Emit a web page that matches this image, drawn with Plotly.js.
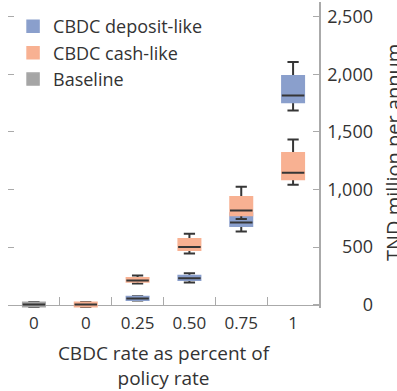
<!DOCTYPE html>
<html>
<head>
<meta charset="utf-8">
<script src="https://cdn.plot.ly/plotly-3.0.1.min.js"></script>
<style>html,body{margin:0;padding:0;background:#fff;}#chart{width:397px;height:391px;}</style>
</head>
<body>
<div id="chart"></div>
<script>
// Categories and tick labels
const categories = ['base 0', 'cash 0', '0.25', '0.50', '0.75', '1'];
const tickLabels = ['0', '0', '0.25', '0.50', '0.75', '1'];
const yTickVals = [0, 500, 1000, 1500, 2000, 2500];
const yTitle = 'TND million per annum';
const xTitle = 'CBDC rate as percent of<br>policy rate';

// Baseline (gray)
const baseCats = ['base 0'];
const baseLower = [-22];
const baseQ1 = [-20];
const baseMedian = [0];
const baseQ3 = [20];
const baseUpper = [22];

// CBDC deposit-like (blue)
const depCats = ['0.25', '0.50', '0.75', '1'];
const depLower = [36, 191, 636, 1687];
const depQ1 = [38, 211, 680, 1756];
const depMedian = [52, 228, 714, 1817];
const depQ3 = [70, 252, 796, 1988];
const depUpper = [72, 272, 853, 2109];

// CBDC cash-like (orange)
const cashCats = ['cash 0', '0.25', '0.50', '0.75', '1'];
const cashLower = [-22, 182, 443, 744, 1042];
const cashQ1 = [-20, 197, 471, 775, 1088];
const cashMedian = [0, 208, 501, 818, 1146];
const cashQ3 = [20, 232, 573, 937, 1319];
const cashUpper = [22, 252, 616, 1024, 1435];

const DARK = '#363636';
const FONT = '"Open Sans", "Noto Sans", sans-serif';
const TXT = '#333333';

function series(name, cats, lower, q1, med, q3, upper, color, rank, yax) {
  const common = {type: 'box', x: cats, xaxis: 'x', yaxis: yax, boxpoints: false, whiskerwidth: 0.5, hoverinfo: 'skip'};
  // whiskers (box collapsed onto the median)
  const whisk = Object.assign({}, common, {
    q1: med, median: med, q3: med, lowerfence: lower, upperfence: upper,
    fillcolor: 'rgba(0,0,0,0)', line: {color: DARK, width: 2}, showlegend: false
  });
  // body
  const body = Object.assign({}, common, {
    name: name, q1: q1, median: med, q3: q3, lowerfence: q1, upperfence: q3,
    fillcolor: color, line: {color: color, width: 1.5}, showlegend: true, legendrank: rank
  });
  // median line
  const mid = Object.assign({}, common, {
    q1: med, median: med, q3: med, lowerfence: med, upperfence: med,
    fillcolor: 'rgba(0,0,0,0)', line: {color: DARK, width: 2}, showlegend: false
  });
  return [whisk, body, mid];
}

const data = [].concat(
  series('CBDC deposit-like', depCats, depLower, depQ1, depMedian, depQ3, depUpper, '#8a9fcc', 1, 'y'),
  series('Baseline', baseCats, baseLower, baseQ1, baseMedian, baseQ3, baseUpper, '#a5a5a5', 3, 'y2'),
  series('CBDC cash-like', cashCats, cashLower, cashQ1, cashMedian, cashQ3, cashUpper, '#f8b192', 2, 'y3')
);

const W = 397, H = 391, ML = 8, MR = 0, MT = 2, MB = 83;
const plotW = W - ML - MR;
const plotH = H - MT - MB;
const xEnd = (319 - ML) / plotW;
const yRange = [-30, 2630];
const zeroPos = (0 - yRange[0]) / (yRange[1] - yRange[0]);

const layout = {
  width: W, height: H,
  margin: {l: ML, r: MR, t: MT, b: MB},
  paper_bgcolor: '#ffffff', plot_bgcolor: '#ffffff',
  font: {family: FONT, size: 18, color: TXT},
  boxmode: 'overlay', boxgap: 0.38,
  showlegend: true,
  legend: {x: 0.013, y: 0.98, xanchor: 'left', yanchor: 'top', bgcolor: 'rgba(0,0,0,0)',
           font: {family: FONT, size: 18, color: TXT}, tracegroupgap: 0, itemwidth: 30},
  xaxis: {
    type: 'category', categoryorder: 'array', categoryarray: categories,
    range: [-0.5, 5.5], domain: [0, xEnd],
    anchor: 'free', position: zeroPos,
    tickmode: 'array', tickvals: categories, ticktext: tickLabels, tickson: 'boundaries',
    ticks: 'inside', ticklen: 8, tickcolor: '#aaaaaa', tickwidth: 1,
    showline: true, linecolor: '#aaaaaa', linewidth: 1.5, layer: 'below traces',
    showgrid: false, zeroline: false,
    tickfont: {family: FONT, size: 17, color: TXT},
    ticklabelstandoff: 3,
    title: {text: xTitle, font: {family: FONT, size: 19, color: TXT}, standoff: 14}
  },
  yaxis: {
    range: yRange, side: 'right', anchor: 'x',
    showline: true, linecolor: '#aaaaaa', linewidth: 1.5,
    ticks: 'inside', ticklen: 6, tickcolor: '#aaaaaa',
    tickmode: 'array', tickvals: yTickVals,
    showticklabels: false, showgrid: false, zeroline: false
  },
  yaxis2: {
    range: yRange, overlaying: 'y', side: 'left', anchor: 'free', position: (373 - ML) / plotW,
    ticks: '', showline: false, showgrid: false, zeroline: false,
    tickmode: 'array', tickvals: yTickVals,
    tickformat: ',d', tickfont: {family: FONT, size: 18, color: TXT}
  },
  yaxis3: {
    range: yRange, overlaying: 'y', side: 'left', anchor: 'x',
    ticks: 'inside', ticklen: 6, tickcolor: '#aaaaaa',
    tickmode: 'array', tickvals: yTickVals.slice(1),
    showticklabels: false, showline: false, showgrid: false, zeroline: false
  },
  annotations: [{
    text: yTitle, textangle: -90, showarrow: false,
    xref: 'paper', yref: 'paper',
    x: (393 - ML) / plotW, y: (H - MB - 153) / plotH,
    xanchor: 'center', yanchor: 'middle',
    font: {family: FONT, size: 20, color: TXT}
  }]
};

Plotly.newPlot('chart', data, layout, {staticPlot: true, displayModeBar: false});
</script>
</body>
</html>
